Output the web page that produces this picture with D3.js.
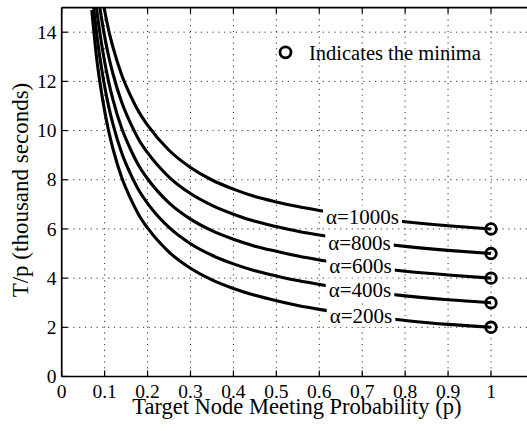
<!DOCTYPE html>
<html><head><meta charset="utf-8">
<script src="https://cdn.jsdelivr.net/npm/d3@7"></script>
<style>
body{margin:0;background:#fff}
text{font-family:"Liberation Serif","Times New Roman",Times,serif;fill:#000}
</style></head>
<body><svg id="c" width="527" height="431"></svg>
<script>
// ---- data ----
const pValues = [0.07,0.075,0.08,0.09,0.1,0.11,0.12,0.14,0.16,0.18,0.2,0.25,0.3,0.35,0.4,0.45,0.5,0.55,0.6,0.7,0.8,0.9,1.0];
const alpha200  = [14.9,14.0,13.15,11.85,10.8,9.93,9.22,8.08,7.25,6.56,6.04,5.06,4.40,3.93,3.58,3.30,3.08,2.89,2.73,2.47,2.28,2.12,2.0];
const alpha400  = [15.9,14.95,14.15,12.85,11.8,10.93,10.22,9.08,8.25,7.56,7.04,6.06,5.40,4.93,4.58,4.30,4.09,3.90,3.74,3.48,3.28,3.12,3.0];
const alpha600  = [16.9,15.95,15.15,13.85,12.8,11.93,11.22,10.08,9.25,8.56,8.04,7.06,6.40,5.93,5.58,5.30,5.09,4.90,4.74,4.48,4.28,4.13,4.0];
const alpha800  = [17.9,16.95,16.15,14.87,13.83,12.97,12.27,11.14,10.31,9.62,9.10,8.11,7.44,6.96,6.60,6.31,6.10,5.91,5.75,5.49,5.29,5.13,5.0];
const alpha1000 = [18.9,17.95,17.15,15.9,14.88,14.03,13.35,12.25,11.43,10.75,10.22,9.2,8.5,7.99,7.62,7.32,7.1,6.91,6.75,6.49,6.29,6.13,6.0];
const seriesNames = ["α=200s","α=400s","α=600s","α=800s","α=1000s"];
const seriesValues = [alpha200, alpha400, alpha600, alpha800, alpha1000];
const xTickValues = [0,0.1,0.2,0.3,0.4,0.5,0.6,0.7,0.8,0.9,1];
const xTickLabels = ["0","0.1","0.2","0.3","0.4","0.5","0.6","0.7","0.8","0.9","1"];
const yTickValues = [0,2,4,6,8,10,12,14];
const yTickLabels = ["0","2","4","6","8","10","12","14"];
const legendText = "Indicates the minima";
const xTitle = "Target Node Meeting Probability (p)";
const yTitle = "T/p (thousand seconds)";

// ---- layout ----
const FONT = '"Liberation Serif","Times New Roman",Times,serif';
const L = 61.7, T = 7.6, B = 376.5, R = 61.7 + 1.1*429.3;
const labelX = [361, 360, 360.5, 359.5, 362.5];
const labelBaseline = [323, 296.5, 272.5, 249.5, 223.5];

const svg = d3.select("#c");
svg.append("rect").attr("width",527).attr("height",431).attr("fill","#fff");

const x = d3.scaleLinear().domain([0,1.1]).range([L,R]);
const y = d3.scaleLinear().domain([0,15]).range([B,T]);

svg.append("defs").append("clipPath").attr("id","clip")
  .append("rect").attr("x",L).attr("y",T).attr("width",R-L).attr("height",B-T);

// grid
const grid = svg.append("g").attr("stroke","#333").attr("stroke-width",1)
  .attr("stroke-dasharray","1.2,4.6").attr("fill","none");
xTickValues.slice(1).forEach(v=>{
  grid.append("line").attr("x1",x(v)).attr("x2",x(v)).attr("y1",T).attr("y2",B);
});
yTickValues.slice(1).forEach(v=>{
  grid.append("line").attr("x1",L).attr("x2",R).attr("y1",y(v)).attr("y2",y(v));
});

// curves
const line = d3.line().x(d=>x(d[0])).y(d=>y(d[1])).curve(d3.curveMonotoneX);
const curves = svg.append("g").attr("clip-path","url(#clip)");
seriesValues.forEach(vals=>{
  curves.append("path").datum(pValues.map((p,i)=>[p,vals[i]]))
    .attr("d",line).attr("fill","none").attr("stroke","#000").attr("stroke-width",3.1)
    .attr("stroke-linejoin","round");
});

// curve labels with white background
seriesNames.forEach((name,i)=>{
  const g = svg.append("g");
  const t = g.append("text").attr("x",labelX[i]).attr("y",labelBaseline[i])
    .attr("font-family",FONT).attr("text-anchor","middle").attr("font-size",21).text(name);
  const bb = t.node().getBBox();
  g.insert("rect","text").attr("x",bb.x-3).attr("y",bb.y+1).attr("width",bb.width+6)
    .attr("height",bb.height-2).attr("fill","#fff");
});

// minima markers
seriesValues.forEach(vals=>{
  const n = vals.length-1;
  svg.append("circle").attr("cx",x(pValues[n])).attr("cy",y(vals[n])).attr("r",5.3)
    .attr("fill","none").attr("stroke","#000").attr("stroke-width",2.8);
});

// axes box
const ax = svg.append("g").attr("stroke","#000").attr("stroke-width",1.7).attr("fill","none");
ax.append("line").attr("x1",L).attr("x2",L).attr("y1",T).attr("y2",B);
ax.append("line").attr("x1",L).attr("x2",R).attr("y1",B).attr("y2",B);
ax.append("line").attr("x1",L).attr("x2",R).attr("y1",T).attr("y2",T);
ax.append("line").attr("x1",R).attr("x2",R).attr("y1",T).attr("y2",B);
const tk = svg.append("g").attr("stroke","#000").attr("stroke-width",1.2);
xTickValues.forEach(v=>{
  tk.append("line").attr("x1",x(v)).attr("x2",x(v)).attr("y1",B).attr("y2",B-6);
  tk.append("line").attr("x1",x(v)).attr("x2",x(v)).attr("y1",T).attr("y2",T+6);
});
yTickValues.forEach(v=>{
  tk.append("line").attr("x1",L).attr("x2",L+6).attr("y1",y(v)).attr("y2",y(v));
  tk.append("line").attr("x1",R-6).attr("x2",R).attr("y1",y(v)).attr("y2",y(v));
});

// tick labels
xTickValues.forEach((v,i)=>{
  svg.append("text").attr("x",x(v)).attr("y",397.5).attr("text-anchor","middle")
    .attr("font-family",FONT).attr("font-size",19.5).text(xTickLabels[i]);
});
yTickValues.forEach((v,i)=>{
  svg.append("text").attr("x",56.5).attr("y",y(v)).attr("dy","0.34em").attr("text-anchor","end")
    .attr("font-family",FONT).attr("font-size",19.5).text(yTickLabels[i]);
});

// axis titles
svg.append("text").attr("x",(L+R)/2 - 1).attr("y",414).attr("text-anchor","middle")
  .attr("font-family",FONT).attr("font-size",22.5).text(xTitle);
svg.append("text").attr("transform","translate(27.5,"+((T+B)/2-2)+") rotate(-90)")
  .attr("text-anchor","middle").attr("font-family",FONT).attr("font-size",23).text(yTitle);

// legend
svg.append("circle").attr("cx",285.5).attr("cy",52.3).attr("r",5.5)
  .attr("fill","none").attr("stroke","#000").attr("stroke-width",2.8);
svg.append("text").attr("x",309).attr("y",59.5).attr("font-family",FONT)
  .attr("font-size",20.5).text(legendText);
</script></body></html>
